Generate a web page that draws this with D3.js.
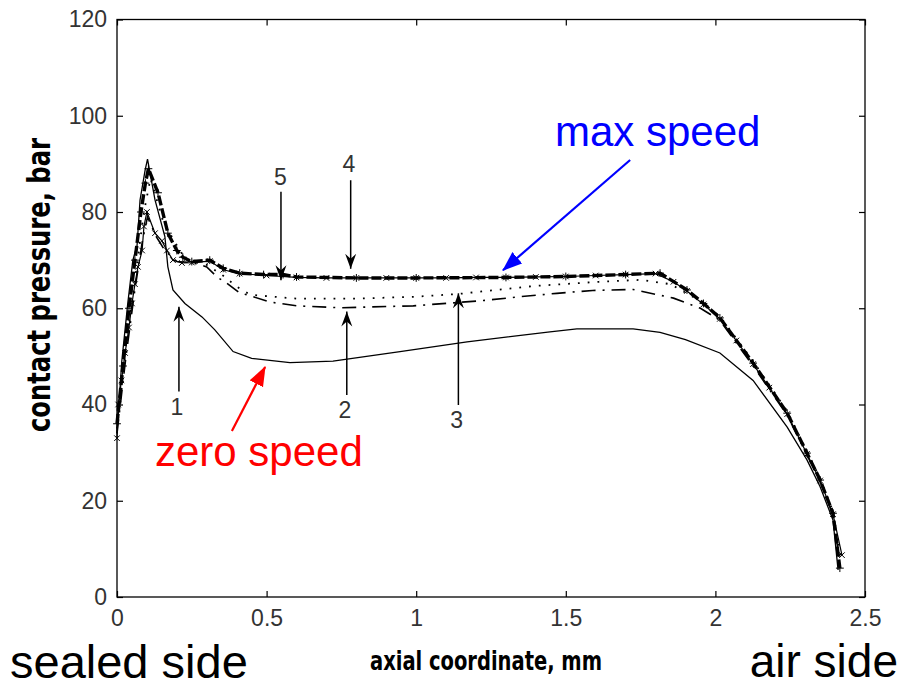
<!DOCTYPE html>
<html><head><meta charset="utf-8">
<script src="https://cdn.jsdelivr.net/npm/d3@7"></script>
<style>body{margin:0;background:#fff}</style>
</head><body>
<svg id="c" width="902" height="688"></svg>
<script>
// ---- data ----
const xTicks = [0, 0.5, 1, 1.5, 2, 2.5];
const yTicks = [0, 20, 40, 60, 80, 100, 120];
const xLabel = "axial coordinate, mm";
const yLabel = "contact pressure, bar";

// curve 1: zero speed (solid)
const curve1 = [[0,34],[0.016,49],[0.036,61],[0.053,70],[0.067,73],[0.077,82.5],[0.094,88.7],[0.102,91],[0.127,82.5],[0.16,74.9],[0.17,68.6],[0.187,63.8],[0.227,61],[0.284,58.2],[0.327,55.5],[0.388,51],[0.45,49.6],[0.578,48.7],[0.722,49],[0.946,51],[1.17,53],[1.447,55.1],[1.537,55.7],[1.725,55.7],[1.815,55],[1.9,53.5],[2.015,50.7],[2.126,45],[2.24,35.3],[2.306,28.5],[2.35,22.9],[2.393,16],[2.41,5.6]];
// curve 2: dash-dot
const curve2 = [[0,34],[0.03,50],[0.06,64],[0.085,74],[0.102,79],[0.13,75],[0.16,72],[0.2,69.7],[0.25,69.5],[0.3,68.6],[0.334,66.5],[0.367,65.2],[0.41,63.2],[0.455,62.4],[0.51,61.3],[0.6,60.5],[0.745,60.1],[0.99,60.5],[1.224,61.6],[1.347,62.4],[1.47,63.1],[1.59,63.7],[1.725,63.9],[1.86,62.1],[1.95,60],[2.015,57.5],[2.126,48],[2.24,37.8],[2.306,29.5],[2.35,24],[2.393,17],[2.415,7.5]];
// curve 3: dotted
const curve3 = [[0,35],[0.03,52],[0.06,66],[0.09,80],[0.112,87],[0.154,78],[0.21,72],[0.233,70],[0.3,69],[0.35,67],[0.4,64.5],[0.445,62.8],[0.6,62],[0.8,62],[1.0,62.4],[1.146,63],[1.39,64.6],[1.61,65.5],[1.75,65.9],[1.85,65],[1.95,61.5],[2.015,58.3],[2.126,49],[2.24,38.6],[2.306,30.3],[2.35,24.6],[2.393,17.8],[2.42,8]];
// curve 4: x markers
const curve4 = [[0,33],[0.004,40],[0.015,45],[0.027,50.7],[0.04,56],[0.05,61],[0.06,65],[0.07,68.6],[0.084,72],[0.09,77],[0.1,80],[0.127,75.6],[0.15,74],[0.167,72],[0.187,70],[0.217,69.4],[0.25,69.5],[0.31,69.8],[0.355,68],[0.41,67.2],[0.5,66.8],[0.6,66.4],[0.7,66.3],[0.8,66.3],[0.9,66.3],[1.0,66.3],[1.1,66.3],[1.2,66.4],[1.3,66.4],[1.4,66.5],[1.5,66.6],[1.6,66.8],[1.7,67],[1.8,67.2],[1.86,65.5],[1.905,63.6],[1.96,60.8],[2.015,57.8],[2.07,53.3],[2.126,48.4],[2.18,43.5],[2.24,38],[2.306,29.7],[2.35,24.2],[2.393,17.2],[2.423,8.7]];
// curve 5: max speed (thick)
const curve5 = [[0,36],[0.02,48],[0.04,60],[0.06,70],[0.08,80],[0.095,86],[0.105,89],[0.137,84],[0.17,75.6],[0.2,72],[0.22,70.6],[0.25,69.7],[0.31,70],[0.355,68.3],[0.41,67.3],[0.49,67],[0.555,67],[0.6,66.5],[0.8,66.3],[1.0,66.3],[1.3,66.4],[1.5,66.6],[1.7,67],[1.815,67.3],[1.905,63.8],[1.96,61],[2.015,58],[2.126,48.6],[2.24,38.2],[2.306,29.9],[2.35,24.3],[2.393,17.4],[2.416,6]];

// numbered arrows (data coords): label, x, tail y, tip y, label x, label baseline y
const numArrows = [
  {label:"1", x:0.207, from:42.7, to:60.3, lx:0.200, ly:37.8},
  {label:"2", x:0.768, from:42.0, to:59.3, lx:0.762, ly:37.2},
  {label:"3", x:1.141, from:39.9, to:63.1, lx:1.135, ly:35.1},
  {label:"4", x:0.781, from:86.6, to:68.2, lx:0.775, ly:88.3},
  {label:"5", x:0.548, from:84.2, to:65.8, lx:0.546, ly:85.6}
];
// colored callouts: text, color, arrow tail/tip in data coords
const callouts = [
  {text:"zero speed", color:"#ff0000", x0:0.384, y0:34.5, x1:0.495, y1:47.8},
  {text:"max speed",  color:"#0000ff", x0:1.715, y0:90.8, x1:1.290, y1:67.9}
];
const sideLabels = ["sealed side", "air side"];

// ---- layout ----
const L = 117, R = 865, T = 19.5, B = 597;
const svg = d3.select("#c");
const x = d3.scaleLinear().domain([0, 2.5]).range([L, R]);
const y = d3.scaleLinear().domain([0, 120]).range([B, T]);
const tickFont = "'Liberation Sans', Arial, sans-serif";
const titleFont = "'DejaVu Sans Condensed', 'DejaVu Sans', sans-serif";

// defs
const defs = svg.append("defs");
defs.append("marker").attr("id","blk").attr("viewBox","0 -6 15 12")
  .attr("refX",15).attr("refY",0).attr("markerWidth",15).attr("markerHeight",12)
  .attr("markerUnits","userSpaceOnUse").attr("orient","auto")
  .append("path").attr("d","M0,-5.5 L15,0 L0,5.5 L5,0 Z").attr("fill","#000");
callouts.forEach((c,i)=>{
  defs.append("marker").attr("id","cm"+i).attr("viewBox","0 -8 20 16")
    .attr("refX",19).attr("refY",0).attr("markerWidth",20).attr("markerHeight",16)
    .attr("markerUnits","userSpaceOnUse").attr("orient","auto")
    .append("path").attr("d","M0,-7.5 L20,0 L0,7.5 Z").attr("fill",c.color);
});

// axes
const gx = svg.append("g").attr("transform",`translate(0,${B})`)
  .call(d3.axisBottom(x).tickValues(xTicks).tickSizeInner(-6).tickSizeOuter(0).tickPadding(13).tickFormat(d3.format("")));
const gy = svg.append("g").attr("transform",`translate(${L},0)`)
  .call(d3.axisLeft(y).tickValues(yTicks).tickSizeInner(-6).tickSizeOuter(0).tickPadding(10));
const gt = svg.append("g").attr("transform",`translate(0,${T})`)
  .call(d3.axisTop(x).tickValues(xTicks).tickSizeInner(-6).tickSizeOuter(0).tickFormat(""));
const gr = svg.append("g").attr("transform",`translate(${R},0)`)
  .call(d3.axisRight(y).tickValues(yTicks).tickSizeInner(-6).tickSizeOuter(0).tickFormat(""));
[gx,gy,gt,gr].forEach(g=>{
  g.select(".domain").remove();
  g.selectAll(".tick line").attr("stroke","#000").attr("stroke-width",1.2);
  g.selectAll(".tick text").attr("font-family",tickFont).attr("font-size",23).attr("fill","#333");
});
svg.append("rect").attr("x",L).attr("y",T).attr("width",R-L).attr("height",B-T)
  .attr("fill","none").attr("stroke","#000").attr("stroke-width",1.3);

// axis titles
svg.append("text").attr("x",486).attr("y",670).attr("text-anchor","middle")
  .attr("font-family",titleFont).attr("font-weight","bold")
  .attr("font-size",27).attr("textLength",232).attr("lengthAdjust","spacingAndGlyphs").text(xLabel);
svg.append("text").attr("transform","translate(50,285) rotate(-90)").attr("text-anchor","middle")
  .attr("font-family",titleFont).attr("font-weight","bold")
  .attr("font-size",32).attr("textLength",294).attr("lengthAdjust","spacingAndGlyphs").text(yLabel);

// curves
const line = d3.line().x(d=>x(d[0])).y(d=>y(d[1]));
const plot = svg.append("g");
plot.append("path").datum(curve1).attr("d",line).attr("fill","none").attr("stroke","#000").attr("stroke-width",1.3);
plot.append("path").datum(curve2).attr("d",line).attr("fill","none").attr("stroke","#000").attr("stroke-width",1.6).attr("stroke-dasharray","14,7,2,7");
plot.append("path").datum(curve3).attr("d",line).attr("fill","none").attr("stroke","#000").attr("stroke-width",1.8).attr("stroke-dasharray","1.8,8");
plot.append("path").datum(curve4).attr("d",line).attr("fill","none").attr("stroke","#000").attr("stroke-width",1.2);
plot.append("path").datum(curve5).attr("d",line).attr("fill","none").attr("stroke","#000").attr("stroke-width",3.4).attr("stroke-dasharray","10,3");
const symTimes = d3.symbolTimes || d3.symbolCross;
const symPlus = d3.symbolPlus || d3.symbolCross;
plot.selectAll(".m4").data(curve4).join("path").attr("class","m4")
  .attr("transform",d=>`translate(${x(d[0])},${y(d[1])})`)
  .attr("d",d3.symbol(symTimes,22)).attr("fill","none").attr("stroke","#000").attr("stroke-width",1);
plot.selectAll(".m5").data(curve5).join("path").attr("class","m5")
  .attr("transform",d=>`translate(${x(d[0])},${y(d[1])})`)
  .attr("d",d3.symbol(symPlus,22)).attr("fill","none").attr("stroke","#000").attr("stroke-width",1);

// numbered arrows
const ann = svg.append("g");
numArrows.forEach(a=>{
  ann.append("line").attr("x1",x(a.x)).attr("x2",x(a.x)).attr("y1",y(a.from)).attr("y2",y(a.to))
    .attr("stroke","#000").attr("stroke-width",1.5).attr("marker-end","url(#blk)");
  ann.append("text").attr("x",x(a.lx)).attr("y",y(a.ly)).attr("text-anchor","middle")
    .attr("font-family",tickFont).attr("font-size",23).attr("fill","#333").text(a.label);
});

// colored callouts
const cpos = [{tx:155, ty:466}, {tx:555, ty:146}];
callouts.forEach((c,i)=>{
  ann.append("line").attr("x1",x(c.x0)).attr("y1",y(c.y0)).attr("x2",x(c.x1)).attr("y2",y(c.y1))
    .attr("stroke",c.color).attr("stroke-width",2.2).attr("marker-end",`url(#cm${i})`);
  ann.append("text").attr("x",cpos[i].tx).attr("y",cpos[i].ty)
    .attr("font-family","'Liberation Sans', Arial, sans-serif").attr("font-size",42)
    .attr("fill",c.color).text(c.text);
});

// side labels
svg.append("text").attr("x",10).attr("y",678).attr("font-family","'Liberation Sans', Arial, sans-serif")
  .attr("font-size",47).attr("fill","#000").text(sideLabels[0]);
svg.append("text").attr("x",898).attr("y",677).attr("text-anchor","end").attr("font-family","'Liberation Sans', Arial, sans-serif")
  .attr("font-size",46).attr("fill","#000").text(sideLabels[1]);
</script>
</body></html>
